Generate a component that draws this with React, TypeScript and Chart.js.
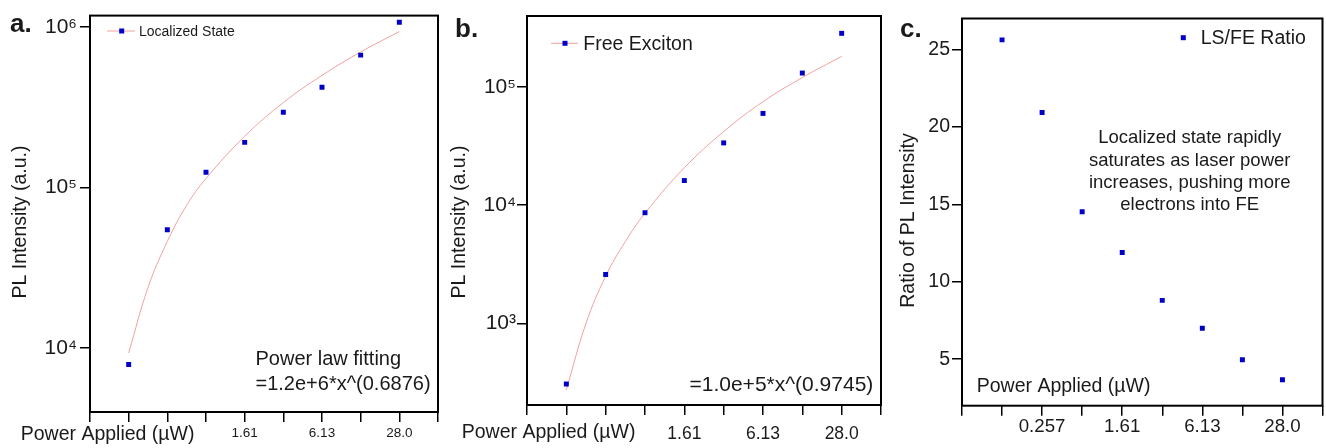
import React, { useEffect, useRef } from 'react';
import { Chart, registerables } from 'chart.js';

Chart.register(...registerables);

const FONT = "'Liberation Sans', Arial, Helvetica, sans-serif";
const TEXT = '#1a1a1a';
const POINT_COLOR = '#0000c8';
const FIT_COLOR = '#f2a0a0';

// ---- data ----
const POSITIONS = [1, 2, 3, 4, 5, 6, 7, 8];
const X_LABELS_AB = ['', '', '', '', '1.61', '', '6.13', '', '28.0', ''];
const X_LABELS_C = ['', '', '0.257', '', '1.61', '', '6.13', '', '28.0', ''];

const LS_VALUES = [7890, 54600, 124600, 191400, 295000, 422000, 670000, 1075000];
const FIT_X = [1, 1.5, 2, 2.5, 3, 4, 5, 6, 7, 8];
const LS_FIT = [9310, 23800, 46200, 77600, 113800, 209000, 339000, 501000, 701000, 940000];

const FE_VALUES = [307, 2591, 8630, 16150, 33620, 59700, 131000, 284000];
const FE_FIT = [274, 1000, 2510, 4920, 8550, 20700, 41900, 75000, 120000, 181500];

const RATIO_VALUES = [25.62, 20.93, 14.52, 11.89, 8.8, 7.0, 4.97, 3.67];

const TICKS_A = [1e4, 1e5, 1e6];
const TICKS_B = [1e3, 1e4, 1e5];
const TICKS_C = [5, 10, 15, 20, 25];

const SUP = '⁰¹²³⁴⁵⁶⁷⁸⁹';
const pow10Label = (v: number) =>
  '10' + String(Math.round(Math.log10(v))).split('').map((d) => SUP[+d]).join('');

type TextItem = {
  t: string;
  x: number;
  y: number;
  size: number;
  align?: CanvasTextAlign;
  base?: CanvasTextBaseline;
  rot?: boolean;
  bold?: boolean;
};
type LegendSpec = {
  ds: number;
  y: number;
  mx: number;
  line?: [number, number];
  tx: number;
  size: number;
};

const makePlugin = (items: TextItem[], legend: LegendSpec) => ({
  id: 'figText',
  afterDraw(chart: any) {
    const ctx: CanvasRenderingContext2D = chart.ctx;
    const a = chart.chartArea;
    ctx.save();
    ctx.strokeStyle = '#000';
    ctx.lineWidth = 2;
    ctx.strokeRect(a.left, a.top, a.right - a.left, a.bottom - a.top);
    ctx.fillStyle = TEXT;
    for (const it of items) {
      ctx.save();
      ctx.font = `${it.bold ? 'bold ' : ''}${it.size}px ${FONT}`;
      ctx.textAlign = it.align || 'left';
      ctx.textBaseline = it.base || 'alphabetic';
      ctx.translate(it.x, it.y);
      if (it.rot) ctx.rotate(-Math.PI / 2);
      ctx.fillText(it.t, 0, 0);
      ctx.restore();
    }
    // legend
    const ds = chart.data.datasets[legend.ds];
    if (legend.line) {
      ctx.strokeStyle = FIT_COLOR;
      ctx.lineWidth = 1;
      ctx.beginPath();
      ctx.moveTo(legend.line[0], legend.y);
      ctx.lineTo(legend.line[1], legend.y);
      ctx.stroke();
    }
    ctx.fillStyle = POINT_COLOR;
    ctx.fillRect(legend.mx - 2.5, legend.y - 2.5, 5, 5);
    ctx.fillStyle = TEXT;
    ctx.font = `${legend.size}px ${FONT}`;
    ctx.textAlign = 'left';
    ctx.textBaseline = 'middle';
    ctx.fillText(ds.label, legend.tx, legend.y + 1);
    ctx.restore();
  },
});

const gridOpts = {
  display: true,
  drawOnChartArea: false,
  drawTicks: true,
  tickLength: 10,
  color: '#000',
  lineWidth: 1.5,
};

const xScale = (labels: string[], height: number, size: number, pad: number) => ({
  type: 'linear',
  min: 0,
  max: labels.length - 1,
  afterBuildTicks: (s: any) => {
    s.ticks = labels.map((_, i) => ({ value: i }));
  },
  afterFit: (s: any) => {
    s.height = height;
  },
  ticks: {
    autoSkip: false,
    maxRotation: 0,
    minRotation: 0,
    padding: pad,
    color: TEXT,
    font: { family: FONT, size },
    callback: (v: number) => labels[Math.round(v)] ?? '',
  },
  grid: gridOpts,
  border: { display: false },
});

const yScale = (
  type: string,
  min: number,
  max: number,
  ticks: number[],
  width: number,
  size: number,
  pad: number,
  fmt: (v: number) => string
) => ({
  type,
  min,
  max,
  afterBuildTicks: (s: any) => {
    s.ticks = ticks.map((v) => ({ value: v }));
  },
  afterFit: (s: any) => {
    s.width = width;
  },
  ticks: {
    padding: pad,
    color: TEXT,
    font: { family: FONT, size },
    callback: (v: number) => fmt(v),
  },
  grid: gridOpts,
  border: { display: false },
});

const pointsDataset = (label: string, values: number[]) => ({
  label,
  data: POSITIONS.map((x, i) => ({ x, y: values[i] })),
  showLine: false,
  pointStyle: 'rect',
  pointRadius: 3.5,
  pointHoverRadius: 3.5,
  backgroundColor: POINT_COLOR,
  borderColor: POINT_COLOR,
  borderWidth: 0,
  order: 1,
});

const fitDataset = (label: string, values: number[]) => ({
  label,
  data: FIT_X.map((x, i) => ({ x, y: values[i] })),
  borderColor: FIT_COLOR,
  borderWidth: 1,
  pointRadius: 0,
  tension: 0.4,
  fill: false,
  order: 2,
});

const baseOptions = (padding: any, scales: any) => ({
  responsive: false,
  maintainAspectRatio: false,
  devicePixelRatio: 1,
  animation: false,
  layout: { padding },
  plugins: { legend: { display: false }, tooltip: { enabled: false }, title: { display: false } },
  scales,
});

const configA = () => ({
  type: 'line',
  data: {
    datasets: [pointsDataset('Localized State', LS_VALUES), fitDataset('Fit', LS_FIT)],
  },
  options: baseOptions(
    { left: 0, right: 7, top: 14, bottom: 0 },
    {
      x: xScale(X_LABELS_AB, 36, 13.5, 3),
      y: yScale('logarithmic', 3987, 1182000, TICKS_A, 90, 21, 3, pow10Label),
    }
  ),
  plugins: [
    makePlugin(
      [
        { t: 'a.', x: 10, y: 32, size: 26, bold: true },
        { t: 'PL Intensity (a.u.)', x: 21, y: 222, size: 19.5, rot: true, align: 'center', base: 'middle' },
        { t: 'Power Applied (\u00b5W)', x: 20.7, y: 435, size: 19.5, base: 'middle' },
        { t: 'Power law fitting', x: 255.5, y: 365, size: 20 },
        { t: '=1.2e+6*x^(0.6876)', x: 255.5, y: 390, size: 20 },
      ],
      { ds: 0, y: 31, mx: 121.7, line: [107, 135], tx: 139, size: 14 }
    ),
  ],
});

const configB = () => ({
  type: 'line',
  data: {
    datasets: [pointsDataset('Free Exciton', FE_VALUES), fitDataset('Fit', FE_FIT)],
  },
  options: baseOptions(
    { left: 0, right: 8, top: 16, bottom: 0 },
    {
      x: xScale(X_LABELS_AB, 43, 17.5, 9),
      y: yScale('logarithmic', 204, 398000, TICKS_B, 82, 21, 1, pow10Label),
    }
  ),
  plugins: [
    makePlugin(
      [
        { t: 'b.', x: 10, y: 36.7, size: 26, bold: true },
        { t: 'PL Intensity (a.u.)', x: 15, y: 222, size: 19.5, rot: true, align: 'center', base: 'middle' },
        { t: 'Power Applied (\u00b5W)', x: 16.7, y: 432.7, size: 19.5, base: 'middle' },
        { t: '=1.0e+5*x^(0.9745)', x: 428.3, y: 390.7, size: 21, align: 'right' },
      ],
      { ds: 0, y: 43.3, mx: 120, line: [106, 133], tx: 138.3, size: 19.5 }
    ),
  ],
});

const configC = () => ({
  type: 'line',
  data: {
    datasets: [pointsDataset('LS/FE Ratio', RATIO_VALUES)],
  },
  options: baseOptions(
    { left: 0, right: 2, top: 18.5, bottom: 0 },
    {
      x: xScale(X_LABELS_C, 42.3, 18.7, 0),
      y: yScale('linear', 2, 27, TICKS_C, 72, 19.5, 2, (v) => String(v)),
    }
  ),
  plugins: [
    makePlugin(
      [
        { t: 'c.', x: 10, y: 36.7, size: 26, bold: true },
        { t: 'Ratio of PL Intensity', x: 19, y: 220.5, size: 19.5, rot: true, align: 'center', base: 'middle' },
        { t: 'Power Applied (\u00b5W)', x: 86.7, y: 391.7, size: 19.5 },
        { t: 'Localized state rapidly', x: 299.7, y: 138.3, size: 18.5, align: 'center', base: 'middle' },
        { t: 'saturates as laser power', x: 299.7, y: 161, size: 18.5, align: 'center', base: 'middle' },
        { t: 'increases, pushing more', x: 299.7, y: 183.3, size: 18.5, align: 'center', base: 'middle' },
        { t: 'electrons into FE', x: 299.7, y: 205, size: 18.5, align: 'center', base: 'middle' },
      ],
      { ds: 0, y: 37.7, mx: 293.3, tx: 310.7, size: 19.5 }
    ),
  ],
});

function Panel({ left, width, config }: { left: number; width: number; config: () => any }) {
  const ref = useRef<HTMLCanvasElement>(null);
  useEffect(() => {
    const chart = new Chart(ref.current as HTMLCanvasElement, config());
    return () => chart.destroy();
  }, []);
  return (
    <canvas
      ref={ref}
      width={width}
      height={448}
      style={{ position: 'absolute', left, top: 0, width, height: 448 }}
    />
  );
}

export default function App() {
  return (
    <div
      style={{
        position: 'absolute',
        left: 0,
        top: 0,
        width: 1326,
        height: 448,
        background: '#fff',
        overflow: 'hidden',
      }}
    >
      <Panel left={0} width={445} config={configA} />
      <Panel left={445} width={445} config={configB} />
      <Panel left={890} width={436} config={configC} />
    </div>
  );
}
